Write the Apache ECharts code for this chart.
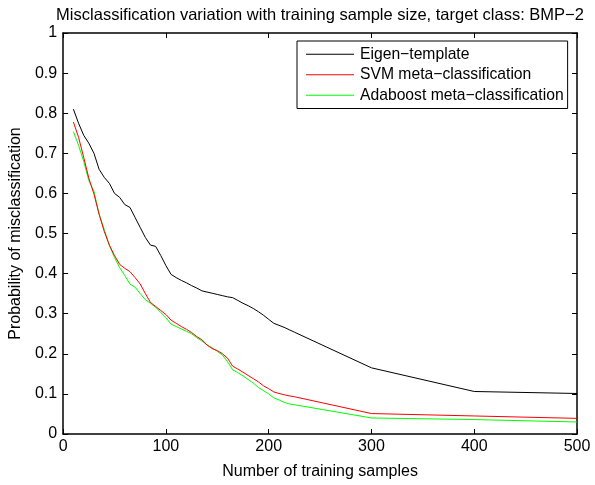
<!DOCTYPE html>
<html>
<head>
<meta charset="utf-8">
<script src="https://cdn.jsdelivr.net/npm/echarts@6/dist/echarts.min.js"></script>
<style>
html,body{margin:0;padding:0;background:#fff;}
#chart{width:595px;height:485px;}
</style>
</head>
<body>
<div id="chart"></div>
<script>
const samples = [10,15,20,25,30,35,40,45,50,55,60,65,70,75,80,85,90,95,100,105,110,115,120,125,130,135,140,145,150,155,160,165,170,175,180,185,190,195,200,205,210,215,220,225,300,400,500];
const eigenTemplate = [0.81,0.775,0.745,0.725,0.70,0.66,0.64,0.625,0.60,0.59,0.572,0.565,0.54,0.515,0.49,0.471,0.468,0.445,0.42,0.398,0.39,0.383,0.377,0.37,0.364,0.357,0.354,0.351,0.348,0.345,0.342,0.34,0.333,0.326,0.32,0.313,0.305,0.296,0.286,0.276,0.271,0.266,0.26,0.254,0.165,0.106,0.101];
const svmMeta = [0.778,0.74,0.69,0.638,0.598,0.548,0.505,0.471,0.445,0.423,0.413,0.405,0.39,0.374,0.35,0.328,0.318,0.308,0.298,0.284,0.276,0.268,0.261,0.253,0.243,0.235,0.222,0.213,0.208,0.2,0.189,0.169,0.162,0.154,0.146,0.138,0.130,0.12,0.113,0.105,0.101,0.098,0.095,0.093,0.051,0.045,0.039];
const adaboostMeta = [0.754,0.72,0.68,0.632,0.605,0.548,0.51,0.47,0.44,0.415,0.395,0.374,0.366,0.35,0.335,0.326,0.316,0.303,0.29,0.274,0.268,0.262,0.256,0.25,0.24,0.232,0.222,0.215,0.206,0.197,0.18,0.16,0.153,0.145,0.136,0.127,0.116,0.108,0.1,0.09,0.085,0.079,0.075,0.073,0.04,0.036,0.030];
const seriesNames = ['Eigen\u2212template','SVM meta\u2212classification','Adaboost meta\u2212classification'];
const seriesColors = ['#000000','#ff0000','#00ff00'];
const titleText = 'Misclassification variation with training sample size, target class: BMP\u22122';
const xName = 'Number of training samples';
const yName = 'Probability of misclassification';

const font = 'Liberation Sans, Arial, sans-serif';
const pair = (ys) => samples.map((x, i) => [x, ys[i]]);
const allData = [eigenTemplate, svmMeta, adaboostMeta];

const axisLine = {show: true, onZero: false, lineStyle: {color: '#000', width: 1.5}};
const axisTick = {show: true, inside: true, length: 5, lineStyle: {color: '#000', width: 1}};

const chart = echarts.init(document.getElementById('chart'), null, {renderer: 'canvas'});
chart.setOption({
  animation: false,
  backgroundColor: '#fff',
  title: {
    text: titleText,
    left: 315, top: 2, textAlign: 'center',
    textStyle: {fontFamily: font, fontSize: 16.5, fontWeight: 'normal', color: '#000'}
  },
  grid: {left: 59, right: 18, top: 33, bottom: 41.5},
  legend: {
    orient: 'vertical',
    left: 297, top: 41,
    backgroundColor: '#fff',
    borderColor: '#000', borderWidth: 1,
    padding: [4, 4, 4, 9],
    itemWidth: 48, itemHeight: 1, itemGap: 2,
    icon: 'rect',
    data: seriesNames,
    textStyle: {fontFamily: font, fontSize: 15.7, lineHeight: 18.5, color: '#000', padding: [0, 0, 0, 1]}
  },
  xAxis: [{
    type: 'value', min: 0, max: 500, interval: 100,
    name: xName, nameLocation: 'middle', nameGap: 30,
    nameTextStyle: {fontFamily: font, fontSize: 16, color: '#000'},
    axisLine, axisTick,
    axisLabel: {fontFamily: font, fontSize: 16, color: '#000', margin: 5},
    splitLine: {show: false}
  }, {
    type: 'value', min: 0, max: 500, interval: 100, position: 'top',
    axisLine, axisTick, axisLabel: {show: false}, splitLine: {show: false}
  }],
  yAxis: [{
    type: 'value', min: 0, max: 1, interval: 0.1,
    name: yName, nameLocation: 'middle', nameGap: 32, nameRotate: 90,
    nameTextStyle: {fontFamily: font, fontSize: 16, color: '#000'},
    axisLine, axisTick,
    axisLabel: {fontFamily: font, fontSize: 16, color: '#000', margin: 6},
    splitLine: {show: false}
  }, {
    type: 'value', min: 0, max: 1, interval: 0.1, position: 'right',
    axisLine, axisTick, axisLabel: {show: false}, splitLine: {show: false}
  }],
  series: seriesNames.map((n, i) => ({
    name: n, type: 'line', data: pair(allData[i]),
    showSymbol: false, symbol: 'none',
    lineStyle: {color: seriesColors[i], width: 1},
    itemStyle: {color: seriesColors[i]},
    z: 3 - i
  }))
});
</script>
</body>
</html>
